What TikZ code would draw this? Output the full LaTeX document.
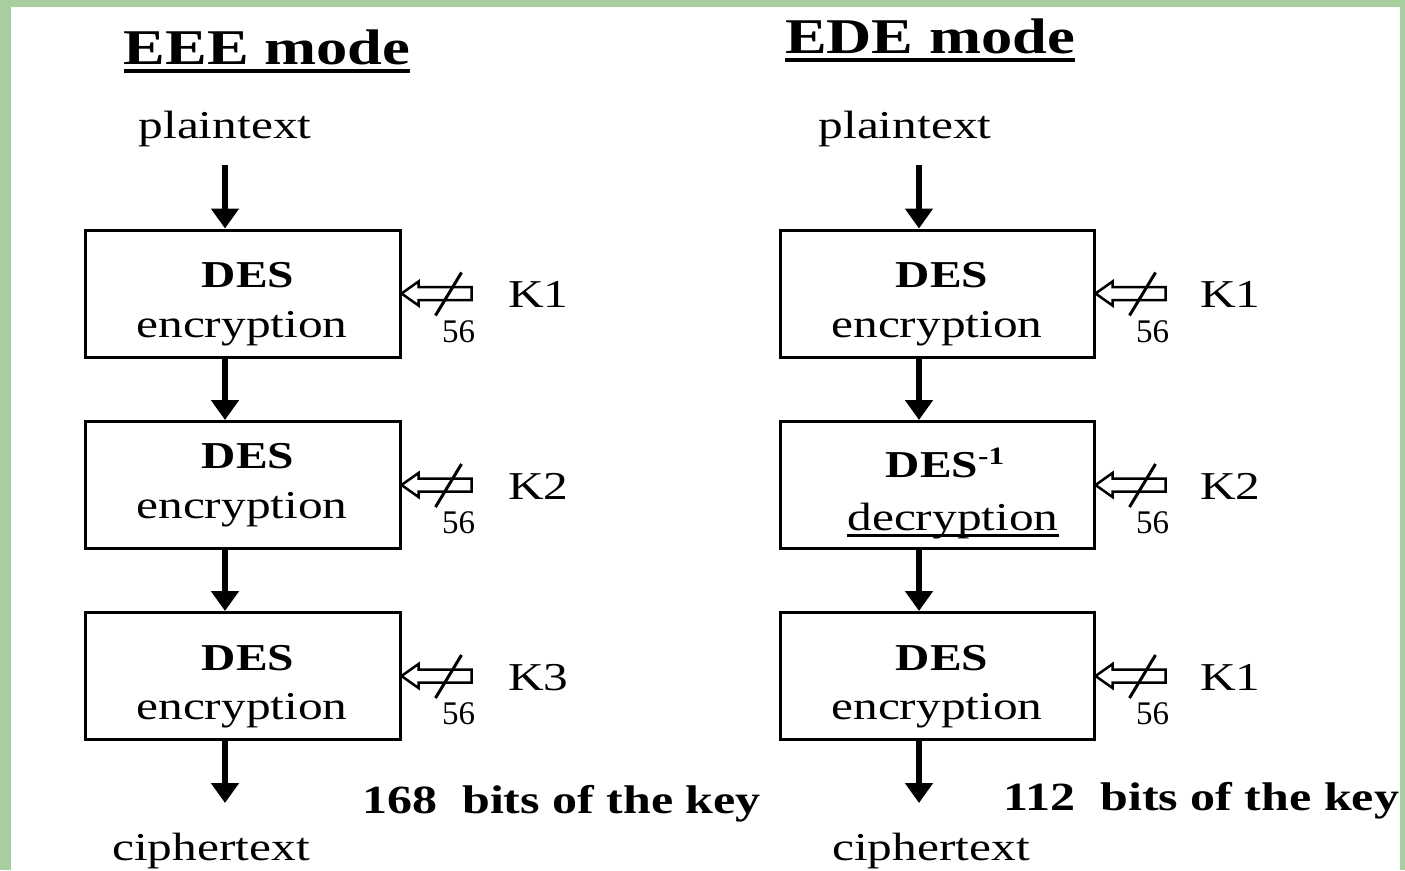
\documentclass[tikz,border=0pt]{standalone}
\usepackage{fontspec}
\setmainfont{Liberation Serif}[FakeStretch=1.25]
\newfontfamily\plainnum{Liberation Serif}
\usetikzlibrary{arrows.meta}
\definecolor{bggreen}{RGB}{168,206,160}
\begin{document}
\begin{tikzpicture}[x=1pt,y=-1pt,
  box/.style={draw, line width=3pt, minimum width=315pt, minimum height=127pt, inner sep=0pt},
  txt/.style={inner sep=0pt, font=\fontsize{39.5}{44}\selectfont},
  des/.style={inner sep=0pt, font=\fontsize{38}{44}\selectfont\bfseries},
  titletxt/.style={inner sep=0pt, font=\fontsize{50}{56}\selectfont\bfseries},
  bits/.style={inner sep=0pt, font=\fontsize{40}{46}\selectfont\bfseries},
  num/.style={inner sep=0pt, font=\fontsize{33}{36}\plainnum},
  flow/.style={line width=6pt, -{Triangle[length=20pt,width=27pt]}},
  keyin/.pic={
    \draw[line width=2.5pt, fill=white, line join=miter]
      (0,0) -- (17,-12) -- (17,-6.5) -- (70,-6.5) -- (70,6.5) -- (17,6.5) -- (17,12) -- cycle;
    \draw[line width=3pt] (60,-21) -- (34,22);
    \node[num] at (57,38) {56};
  }]
\useasboundingbox (0,0) rectangle (1405,870);
\fill[bggreen] (0,0) rectangle (1405,870);
\fill[white] (11,7) rectangle (1400,870);

% ---------- EEE mode ----------
\node[titletxt, anchor=base] (t1) at (267,64) {EEE mode};
\draw[line width=4pt] ([yshift=-7pt]t1.base west) -- ([yshift=-7pt]t1.base east);

\node[txt, anchor=base] (pt1) at (225,138) {plaintext};

\node[box] (b1) at (242.5,293.5) {};
\node[box] (b2) at (242.5,485) {};
\node[box] (b3) at (242.5,676) {};

\node[des, anchor=base] (b1a) at (248,287) {DES};
\node[txt, anchor=base] (b1b) at (242,337) {encryption};
\node[des, anchor=base] (b2a) at (248,468) {DES};
\node[txt, anchor=base] (b2b) at (242,518) {encryption};
\node[des, anchor=base] (b3a) at (248,670) {DES};
\node[txt, anchor=base] (b3b) at (242,719) {encryption};

\draw[flow] ([yshift=-27pt]pt1.base) -- (pt1.base |- b1.north);
\draw[flow] (pt1.base |- b1.south) -- (pt1.base |- b2.north);
\draw[flow] (pt1.base |- b2.south) -- (pt1.base |- b3.north);
\coordinate (e1) at (225,803);
\draw[flow] (pt1.base |- b3.south) -- (e1);

\node[txt, anchor=base] (ct1) at (211,860) {ciphertext};

\pic at (b1.east) {keyin};
\pic at (b2.east) {keyin};
\pic at (b3.east) {keyin};
\node[txt, anchor=base] (k11) at ([xshift=137pt,yshift=-14pt]b1.east) {K1};
\node[txt, anchor=base] (k12) at ([xshift=137pt,yshift=-14pt]b2.east) {K2};
\node[txt, anchor=base] (k13) at ([xshift=137pt,yshift=-14pt]b3.east) {K3};

\node[bits, anchor=base west] (bits1) at (362,813) {168\ \ bits of the key};

% ---------- EDE mode ----------
\node[titletxt, anchor=base] (t2) at (930,53) {EDE mode};
\draw[line width=3.5pt] ([yshift=-7pt]t2.base west) -- ([yshift=-7pt]t2.base east);

\node[txt, anchor=base] (pt2) at (905,138) {plaintext};

\node[box, minimum width=314pt] (c1) at (937,293.5) {};
\node[box, minimum width=314pt] (c2) at (937,485) {};
\node[box, minimum width=314pt] (c3) at (937,676) {};

\node[des, anchor=base] (c1a) at (942,287) {DES};
\node[txt, anchor=base] (c1b) at (937,337) {encryption};
\node[des, anchor=base] (c2a) at (945,477) {DES\raisebox{13pt}{\fontsize{25}{25}\selectfont\bfseries -1}};
\node[txt, anchor=base] (c2b) at (953,530) {decryption};
\draw[line width=3pt] ([yshift=-5pt]c2b.base west) -- ([yshift=-5pt]c2b.base east);
\node[des, anchor=base] (c3a) at (942,670) {DES};
\node[txt, anchor=base] (c3b) at (937,719) {encryption};

\coordinate (ax2) at (919,165);
\draw[flow] (ax2) -- (ax2 |- c1.north);
\draw[flow] (ax2 |- c1.south) -- (ax2 |- c2.north);
\draw[flow] (ax2 |- c2.south) -- (ax2 |- c3.north);
\coordinate (e2) at (919,803);
\draw[flow] (ax2 |- c3.south) -- (e2);

\node[txt, anchor=base] (ct2) at (931,860) {ciphertext};

\pic at (c1.east) {keyin};
\pic at (c2.east) {keyin};
\pic at (c3.east) {keyin};
\node[txt, anchor=base] (k21) at ([xshift=135pt,yshift=-14pt]c1.east) {K1};
\node[txt, anchor=base] (k22) at ([xshift=135pt,yshift=-14pt]c2.east) {K2};
\node[txt, anchor=base] (k23) at ([xshift=135pt,yshift=-14pt]c3.east) {K1};

\node[bits, anchor=base west] (bits2) at (1003,810) {112\ \ bits of the key};
\end{tikzpicture}
\end{document}
